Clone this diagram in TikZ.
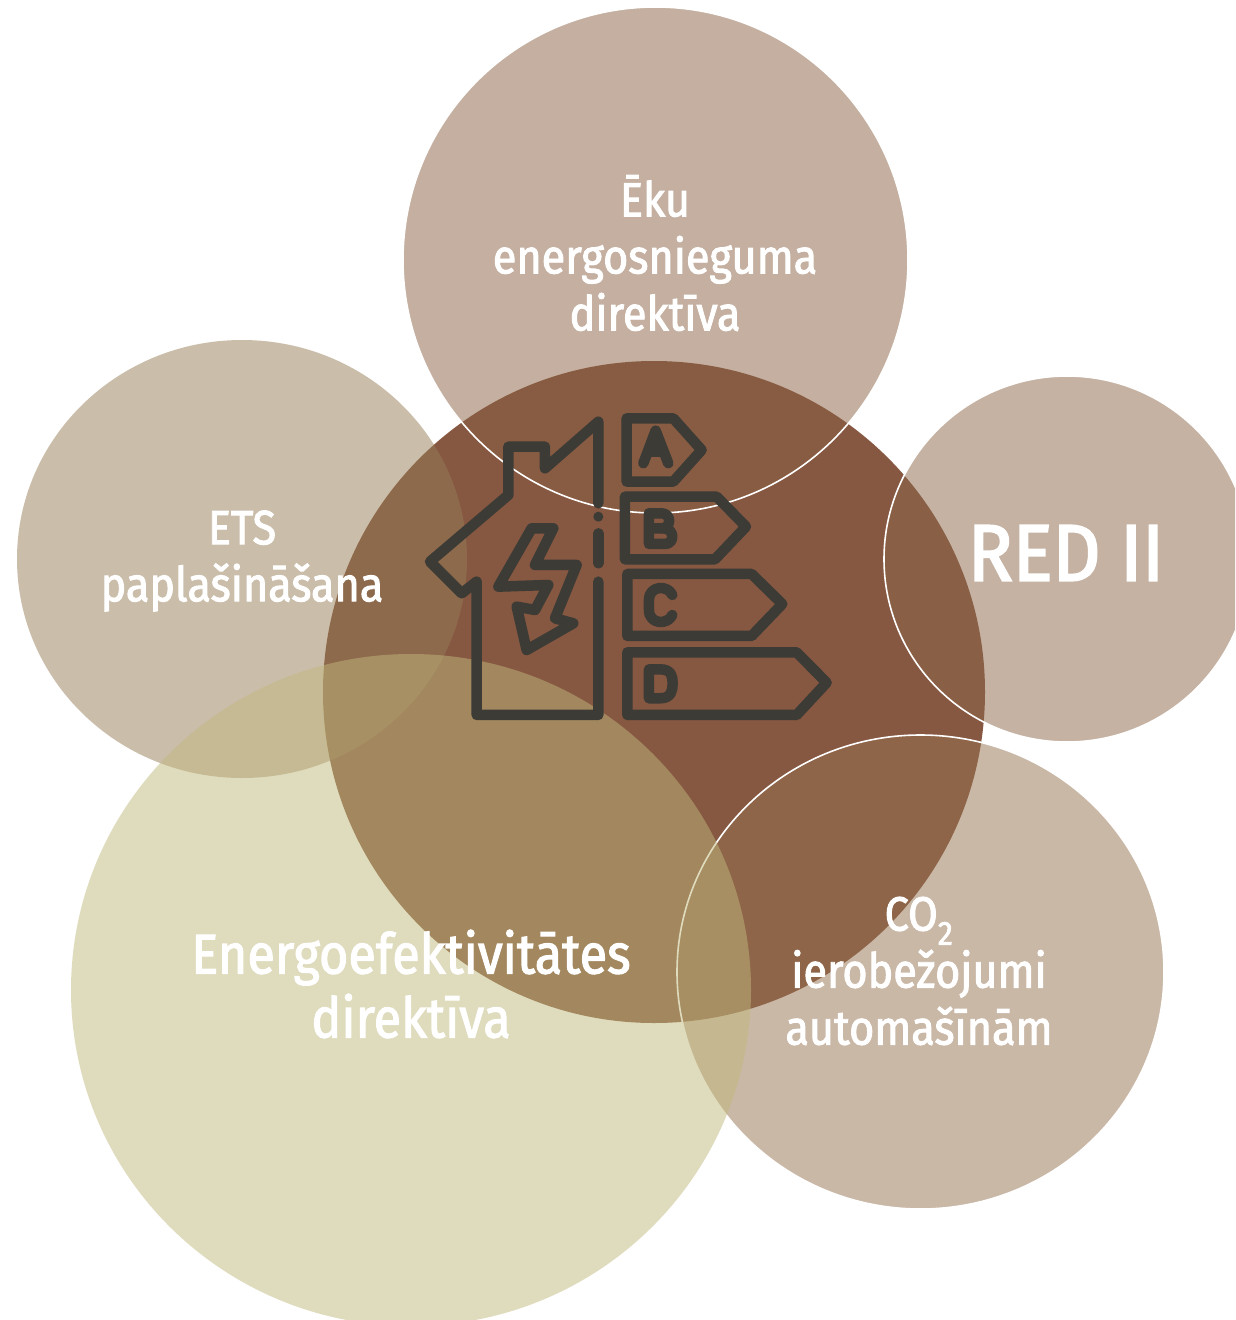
\documentclass[tikz,border=0pt]{standalone}
\usepackage{fontspec}
\setmainfont[FakeStretch=0.90,FakeBold=2]{Fira Sans}
\newfontfamily\redfont[FakeStretch=0.93,FakeBold=2.5]{Fira Sans}
\definecolor{cCore}{RGB}{134,87,65}
\definecolor{cTop}{RGB}{139,97,67}
\definecolor{cRight}{RGB}{141,103,73}
\definecolor{cBR}{RGB}{151,115,81}
\definecolor{cLeft}{RGB}{151,125,87}
\definecolor{cBL}{RGB}{193,185,125}
\definecolor{cIcon}{RGB}{60,59,54}
\tikzset{
  veil/.style={fill opacity=.5},
  ring/.style={draw=white,line width=1.6pt},
  label/.style={text=white,align=center,inner sep=0pt},
  iconline/.style={draw=cIcon,line width=10.5pt,line join=round,line cap=round},
}
\begin{document}
\begin{tikzpicture}[x=1pt,y=-1pt]
\useasboundingbox (0,0) rectangle (1235,1320);
\clip (0,0) rectangle (1235,1320);
\fill[white] (0,0) rectangle (1235,1320);
% core
\fill[cCore] (654,692) circle [radius=331];
% pale circles
\fill[cTop,veil] (655.5,260) ellipse [x radius=252.5,y radius=253];
\fill[cRight,veil] (1067,559) circle [radius=183];
\fill[cBR,veil] (920.5,972) ellipse [x radius=243.5,y radius=237];
\fill[cLeft,veil] (242,559) ellipse [x radius=225,y radius=219];
% white outlines
\draw[ring] (655.5,260) ellipse [x radius=252.5,y radius=253];
\draw[ring] (1067,559) circle [radius=183];
\draw[ring] (920.5,972) ellipse [x radius=243.5,y radius=237];
% front circle
\fill[cBL,veil] (411,990) ellipse [x radius=340,y radius=336];
% icon
\begin{scope}[shift={(410,400)},x=0.3333pt,y=-0.3333pt]
\draw[iconline] (565,310) -- (565,65) -- (405,205) -- (405,140) -- (295,140) -- (295,285) -- (60,485) -- (155,580) -- (200,545) -- (200,945) -- (565,945) -- (565,545);
\draw[iconline] (565,400) -- (565,490);
\fill[cIcon] (565,350) circle [radius=15];
\draw[iconline] (365,385) -- (430,385) -- (375,495) -- (500,495) -- (435,655) -- (490,670) -- (350,750) -- (320,620) -- (375,630) -- (415,555) -- (265,560) -- cycle;
\draw[iconline] (650,55) -- (790,55) -- (875,150) -- (790,245) -- (650,245) -- cycle;
\draw[iconline] (645,290) -- (920,290) -- (1008,380) -- (915,478) -- (645,478) -- cycle;
\draw[iconline] (652,522) -- (1025,522) -- (1117,612) -- (1025,708) -- (652,708) -- cycle;
\draw[iconline] (652,757) -- (1160,757) -- (1250,848) -- (1160,945) -- (652,945) -- cycle;
% letters
\draw[iconline] (700,190) -- (737,92) -- (775,190);
\draw[iconline] (715,155) -- (760,155);
\draw[iconline] (717,340) -- (717,432) -- (765,432) .. controls (795,432) and (795,385) .. (760,385) -- (717,385);
\draw[iconline] (717,340) -- (755,340) .. controls (785,340) and (785,385) .. (755,385);
\draw[iconline] (787,585) .. controls (775,555) and (717,555) .. (717,600) -- (717,630) .. controls (717,675) and (775,675) .. (787,645);
\draw[iconline] (717,808) -- (717,895) -- (750,895) .. controls (785,895) and (788,870) .. (788,850) .. controls (788,830) and (785,808) .. (750,808) -- cycle;
\end{scope}
% labels
\node[label,font=\fontsize{48}{57}\selectfont] (eku) at (655,253) {Ēku\\energosnieguma\\direktīva};
\node[label,font=\fontsize{48}{57}\selectfont] (ets) at (242,561) {ETS\\paplašināšana};
\node[label,font=\fontsize{56}{64}\selectfont] (eed) at (411,984) {Energoefektivitātes\\direktīva};
\node[label,font=\fontsize{80}{80}\redfont] (red) at (1066,553) {RED II};
\node[label,font=\fontsize{48}{57}\selectfont] (co) at (919,971) {CO\textsubscript{2}\\ierobežojumi\\automašīnām};
\end{tikzpicture}
\end{document}
